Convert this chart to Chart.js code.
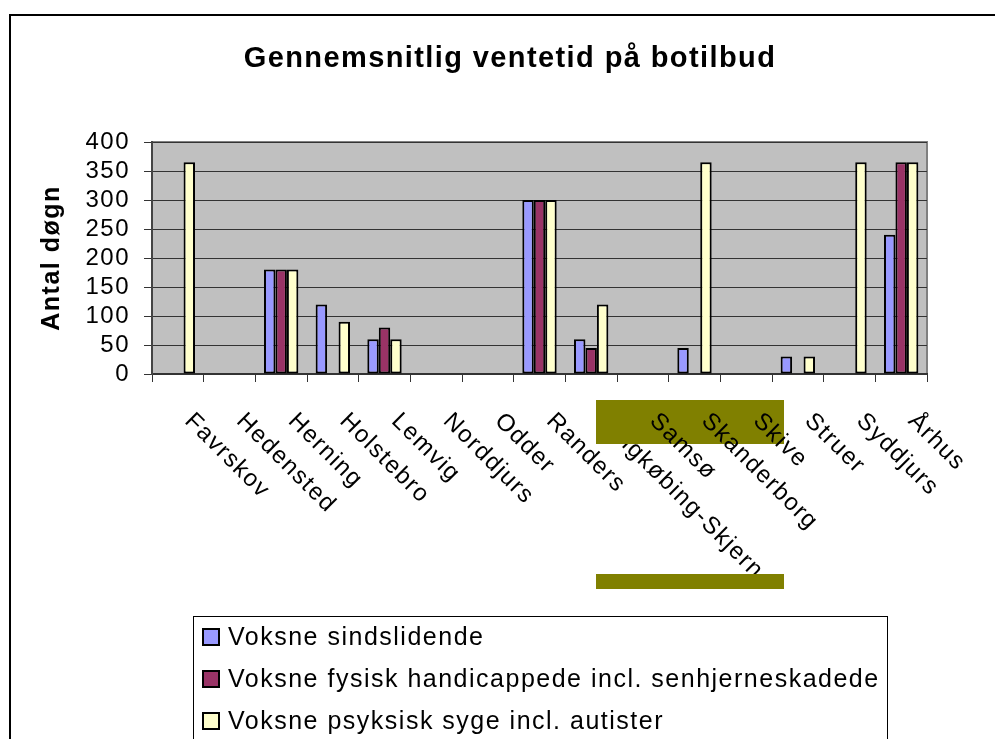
<!DOCTYPE html>
<html>
<head>
<meta charset="utf-8">
<script src="https://cdn.jsdelivr.net/npm/chart.js@4.4.1/dist/chart.umd.min.js"></script>
<style>
  html, body { margin: 0; padding: 0; background: #fff; }
  #wrap { width: 995px; height: 739px; position: relative; }
</style>
</head>
<body>
<div id="wrap"><canvas id="c" width="995" height="739"></canvas></div>
<script>
const chartTitle = 'Gennemsnitlig ventetid på botilbud';
const yAxisTitle = 'Antal døgn';
const categories = ['Favrskov', 'Hedensted', 'Herning', 'Holstebro', 'Lemvig', 'Norddjurs', 'Odder', 'Randers', 'Ringkøbing-Skjern', 'Samsø', 'Skanderborg', 'Skive', 'Struer', 'Syddjurs', 'Århus'];
const seriesNames = ['Voksne sindslidende', 'Voksne fysisk handicappede incl. senhjerneskadede', 'Voksne psyksisk syge incl. autister'];
const sindslidende = [null, null, 180, 120, 60, null, null, 300, 60, null, 45, null, 30, null, 240];
const fysisk       = [null, null, 180, null, 80, null, null, 300, 45, null, null, null, null, null, 365];
const psykisk      = [365, null, 180, 90, 60, null, null, 300, 120, null, 365, null, 30, 365, 365];
const yTickValues = [0, 50, 100, 150, 200, 250, 300, 350, 400];
const seriesColors = ['#9999FF', '#993366', '#FFFFCC'];

const FONT = '"Liberation Sans", Arial, sans-serif';

const decorPlugin = {
  id: 'decor',
  beforeLayout(chart) { chart.ctx.letterSpacing = '1.5px'; },
  beforeDraw(chart) {
    const ctx = chart.ctx;
    ctx.letterSpacing = '1.5px';
    const a = chart.chartArea;
    ctx.save();
    ctx.letterSpacing = '0px';
    // outer frame
    ctx.strokeStyle = '#000';
    ctx.lineWidth = 2;
    ctx.beginPath();
    ctx.moveTo(10, 760); ctx.lineTo(10, 15); ctx.lineTo(1000, 15);
    ctx.stroke();
    // plot background
    ctx.fillStyle = '#C0C0C0';
    ctx.fillRect(a.left, a.top, a.right - a.left, a.bottom - a.top);
    ctx.strokeStyle = '#808080';
    ctx.lineWidth = 2;
    ctx.strokeRect(a.left, a.top, a.right - a.left, a.bottom - a.top);
    ctx.restore();
  },
  afterDraw(chart) {
    const ctx = chart.ctx;
    const xs = chart.scales.x;
    ctx.save();
    // title
    ctx.font = 'bold 29px ' + FONT;
    ctx.letterSpacing = '1.4px';
    ctx.fillStyle = '#000';
    ctx.textAlign = 'center';
    ctx.textBaseline = 'alphabetic';
    ctx.fillText(chartTitle, 510, 67);

    // category labels
    const drawLabel = (i) => {
      const x = xs.getPixelForValue(i);
      ctx.save();
      ctx.font = '24px ' + FONT;
      ctx.letterSpacing = '1.5px';
      ctx.fillStyle = '#000';
      ctx.translate(x + 6, 422);
      ctx.rotate(Math.PI / 4);
      ctx.textAlign = 'left';
      ctx.textBaseline = 'alphabetic';
      ctx.fillText(categories[i], 0, 0);
      ctx.restore();
    };
    const hidden = 8;
    drawLabel(hidden);
    // olive artefact blocks
    ctx.fillStyle = '#808000';
    ctx.fillRect(596, 400, 188, 44);
    ctx.fillRect(596, 574, 188, 15);
    categories.forEach((c, i) => { if (i !== hidden) drawLabel(i); });

    // legend
    const lx = 193, ly = 616;
    ctx.fillStyle = '#fff';
    ctx.fillRect(lx, ly, 887 - lx, 760 - ly);
    ctx.strokeStyle = '#000';
    ctx.lineWidth = 1;
    ctx.strokeRect(lx + 0.5, ly + 0.5, 887 - lx, 760 - ly);
    ctx.font = '25px ' + FONT;
    ctx.letterSpacing = '1.5px';
    ctx.textAlign = 'left';
    ctx.textBaseline = 'middle';
    chart.data.datasets.forEach((ds, i) => {
      const cy = 637 + i * 42;
      ctx.fillStyle = ds.backgroundColor;
      ctx.fillRect(203, cy - 8, 16, 16);
      ctx.strokeStyle = '#000';
      ctx.lineWidth = 2;
      ctx.strokeRect(203, cy - 8, 16, 16);
      ctx.fillStyle = '#000';
      ctx.fillText(ds.label, 228, cy + 1);
    });
    ctx.restore();
  }
};

const datasets = [sindslidende, fysisk, psykisk].map((d, i) => ({
  label: seriesNames[i],
  data: d,
  backgroundColor: seriesColors[i],
  borderColor: '#000',
  borderWidth: 2,
  borderSkipped: false,
  barPercentage: 1,
  categoryPercentage: 0.665
}));

new Chart(document.getElementById('c'), {
  type: 'bar',
  data: { labels: categories, datasets },
  options: {
    responsive: false,
    animation: false,
    devicePixelRatio: 1,
    layout: { padding: { left: 0, top: 142, right: 68, bottom: 0 } },
    plugins: { legend: { display: false }, title: { display: false }, tooltip: { enabled: false } },
    scales: {
      x: {
        grid: { offset: true, drawOnChartArea: false, drawTicks: true, tickLength: 8, color: '#333', lineWidth: 1 },
        border: { display: true, color: '#333', width: 2 },
        ticks: { display: false },
        afterFit(s) { s.height = 739 - 374; }
      },
      y: {
        min: 0, max: 400,
        afterBuildTicks(s) { s.ticks = yTickValues.map(v => ({ value: v })); },
        ticks: { font: { family: FONT, size: 24 }, color: '#000', padding: 14, autoSkip: false },
        grid: { color: '#333', lineWidth: 1, tickLength: 8 },
        border: { display: true, color: '#444', width: 2 },
        title: { display: true, text: yAxisTitle, color: '#000', font: { family: FONT, size: 25, weight: 'bold' }, padding: { top: 37, bottom: 0 } },
        afterFit(s) { s.width = 152; }
      }
    }
  },
  plugins: [decorPlugin]
});
</script>
</body>
</html>
